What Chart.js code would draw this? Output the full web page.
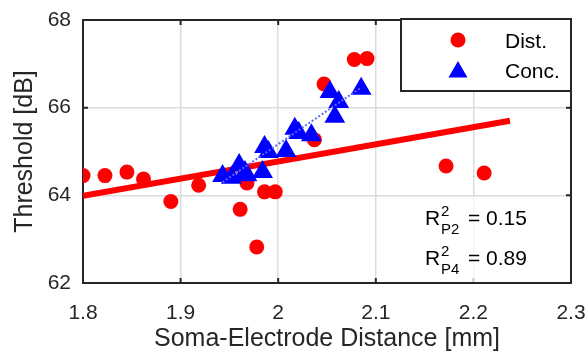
<!DOCTYPE html>
<html>
<head>
<meta charset="utf-8">
<script src="https://cdn.jsdelivr.net/npm/chart.js@4/dist/chart.umd.min.js"></script>
<style>
  html, body { margin: 0; padding: 0; background: #fff; }
  #wrap { width: 586px; height: 354px; position: relative; }
</style>
</head>
<body>
<div id="wrap"><canvas id="chart"></canvas></div>
<script>
// Dist. (red dots)
const distX = [1.800, 1.8225, 1.845, 1.862, 1.890, 1.9185, 1.961, 1.968, 1.978, 1.986, 1.997,
  2.037, 2.047, 2.078, 2.091, 2.172, 2.211];
const distY = [64.45, 64.45, 64.53, 64.37, 63.86, 64.23, 63.68, 64.28, 62.82, 64.08, 64.08,
  65.27, 66.54, 67.10, 67.12, 64.67, 64.51];

// Conc. (blue triangles)
const concX = [1.943, 1.952, 1.960, 1.966, 1.968, 1.984, 1.986, 1.990, 2.008, 2.017, 2.021,
  2.034, 2.053, 2.062, 2.058, 2.085];
const concY = [64.44, 64.40, 64.69, 64.53, 64.46, 64.53, 65.10, 64.99, 65.01, 65.52, 65.42,
  65.37, 66.36, 66.13, 65.79, 66.43];

// linear fits
const distFitX = [1.8, 2.2375];
const distFitY = [63.99, 65.70];
const concFitX = [1.943, 2.085];
const concFitY = [64.30, 66.46];

const xTicks = [1.8, 1.9, 2.0, 2.1, 2.2, 2.3];
const yTicks = [62, 64, 66, 68];

const legendLabels = ['Dist.', 'Conc.'];
const rsqLabels = [['P2', '0.15'], ['P4', '0.89']];

const RED = '#ff0000';
const BLUE = '#0000ff';
const AXIS = '#262626';
const FONT = '"Liberation Sans", Arial, sans-serif';

const pts = (xs, ys) => xs.map((x, i) => ({ x, y: ys[i] }));

function triangle(ctx, x, y, r) {
  ctx.beginPath();
  ctx.moveTo(x, y - r);
  ctx.lineTo(x + r * Math.sin(Math.PI / 3 * 2), y + r / 2);
  ctx.lineTo(x - r * Math.sin(Math.PI / 3 * 2), y + r / 2);
  ctx.closePath();
  ctx.fill();
}

const frame = {
  id: 'frame',
  beforeDatasetsDraw(chart) {
    const { ctx, chartArea: a, scales } = chart;
    ctx.save();
    ctx.strokeStyle = AXIS;
    ctx.lineWidth = 2;
    ctx.strokeRect(a.left, a.top, a.right - a.left, a.bottom - a.top);
    ctx.beginPath();
    xTicks.forEach(v => {
      const px = scales.x.getPixelForValue(v);
      ctx.moveTo(px, a.bottom); ctx.lineTo(px, a.bottom - 5);
      ctx.moveTo(px, a.top); ctx.lineTo(px, a.top + 5);
    });
    yTicks.forEach(v => {
      const py = scales.y.getPixelForValue(v);
      ctx.moveTo(a.left, py); ctx.lineTo(a.left + 5, py);
      ctx.moveTo(a.right, py); ctx.lineTo(a.right - 5, py);
    });
    ctx.stroke();
    ctx.restore();
  },
  afterDraw(chart) {
    const { ctx, chartArea: a } = chart;
    ctx.save();
    // legend
    const lw = 170, lh = 72;
    const lx = a.right - lw, ly = a.top - 1;
    ctx.fillStyle = '#fff';
    ctx.fillRect(lx, ly, lw, lh);
    ctx.strokeStyle = AXIS;
    ctx.lineWidth = 2;
    ctx.strokeRect(lx, ly, lw, lh);
    ctx.fillStyle = RED;
    ctx.beginPath();
    ctx.arc(lx + 57, ly + 21, 7.5, 0, Math.PI * 2);
    ctx.fill();
    ctx.fillStyle = BLUE;
    triangle(ctx, lx + 57, ly + 53, 11);
    ctx.fillStyle = '#000';
    ctx.font = '21px ' + FONT;
    ctx.textBaseline = 'middle';
    ctx.textAlign = 'left';
    ctx.fillText(legendLabels[0], lx + 104, ly + 23);
    ctx.fillText(legendLabels[1], lx + 104, ly + 53);

    // R^2 annotation
    ctx.fillStyle = 'rgba(255,255,255,0.75)';
    ctx.fillRect(411, 197, 137, a.bottom - 198);
    ctx.fillStyle = '#000';
    ctx.textBaseline = 'alphabetic';
    rsqLabels.forEach(([sub, val], i) => {
      const base = 225 + i * 40;
      const x0 = 425;
      ctx.font = '21px ' + FONT;
      ctx.fillText('R', x0, base);
      ctx.font = '15px ' + FONT;
      ctx.fillText('2', x0 + 16, base - 9);
      ctx.fillText(sub, x0 + 16, base + 9);
      ctx.font = '21px ' + FONT;
      ctx.fillText('= ' + val, x0 + 43, base);
    });
    ctx.restore();
  }
};

new Chart(document.getElementById('chart'), {
  type: 'scatter',
  data: {
    datasets: [
      {
        type: 'line',
        data: pts(distFitX, distFitY),
        borderColor: RED,
        borderWidth: 6,
        pointRadius: 0,
        order: 4,
      },
      {
        label: legendLabels[0],
        data: pts(distX, distY),
        backgroundColor: RED,
        borderWidth: 0,
        pointStyle: 'circle',
        pointRadius: 7.5,
        order: 3,
      },
      {
        label: legendLabels[1],
        data: pts(concX, concY),
        backgroundColor: BLUE,
        borderWidth: 0,
        pointStyle: 'triangle',
        pointRadius: 12,
        order: 2,
      },
      {
        type: 'line',
        data: pts(concFitX, concFitY),
        borderColor: '#5a66ff',
        borderWidth: 2,
        borderDash: [2, 2],
        pointRadius: 0,
        order: 1,
      },
    ],
  },
  options: {
    responsive: true,
    maintainAspectRatio: false,
    animation: false,
    layout: { padding: { left: 0, right: 15, top: 20, bottom: 0 } },
    plugins: { legend: { display: false }, tooltip: { enabled: false } },
    scales: {
      x: {
        type: 'linear',
        min: 1.8,
        max: 2.3,
        afterBuildTicks: s => { s.ticks = xTicks.map(value => ({ value })); },
        afterFit: s => { s.height = 71; s.paddingLeft = 0; s.paddingRight = 0; },
        grid: { color: '#dcdcdc', lineWidth: 1.5, drawTicks: false },
        border: { display: false },
        ticks: {
          color: AXIS,
          font: { size: 21, family: FONT },
          padding: 18,
          maxRotation: 0,
          callback: v => String(+Number(v).toFixed(1)),
        },
        title: {
          display: true,
          text: 'Soma-Electrode Distance [mm]',
          color: AXIS,
          font: { size: 25, family: FONT },
          padding: { top: 0, bottom: 0 },
        },
      },
      y: {
        min: 62,
        max: 68,
        afterBuildTicks: s => { s.ticks = yTicks.map(value => ({ value })); },
        afterFit: s => { s.width = 83; s.paddingTop = 0; s.paddingBottom = 0; },
        grid: { color: '#dcdcdc', lineWidth: 1.5, drawTicks: false },
        border: { display: false },
        ticks: {
          color: AXIS,
          font: { size: 21, family: FONT },
          padding: 12,
        },
        title: {
          display: true,
          text: 'Threshold [dB]',
          color: AXIS,
          font: { size: 25, family: FONT },
          padding: { top: 10, bottom: 0 },
        },
      },
    },
  },
  plugins: [frame],
});
</script>
</body>
</html>
